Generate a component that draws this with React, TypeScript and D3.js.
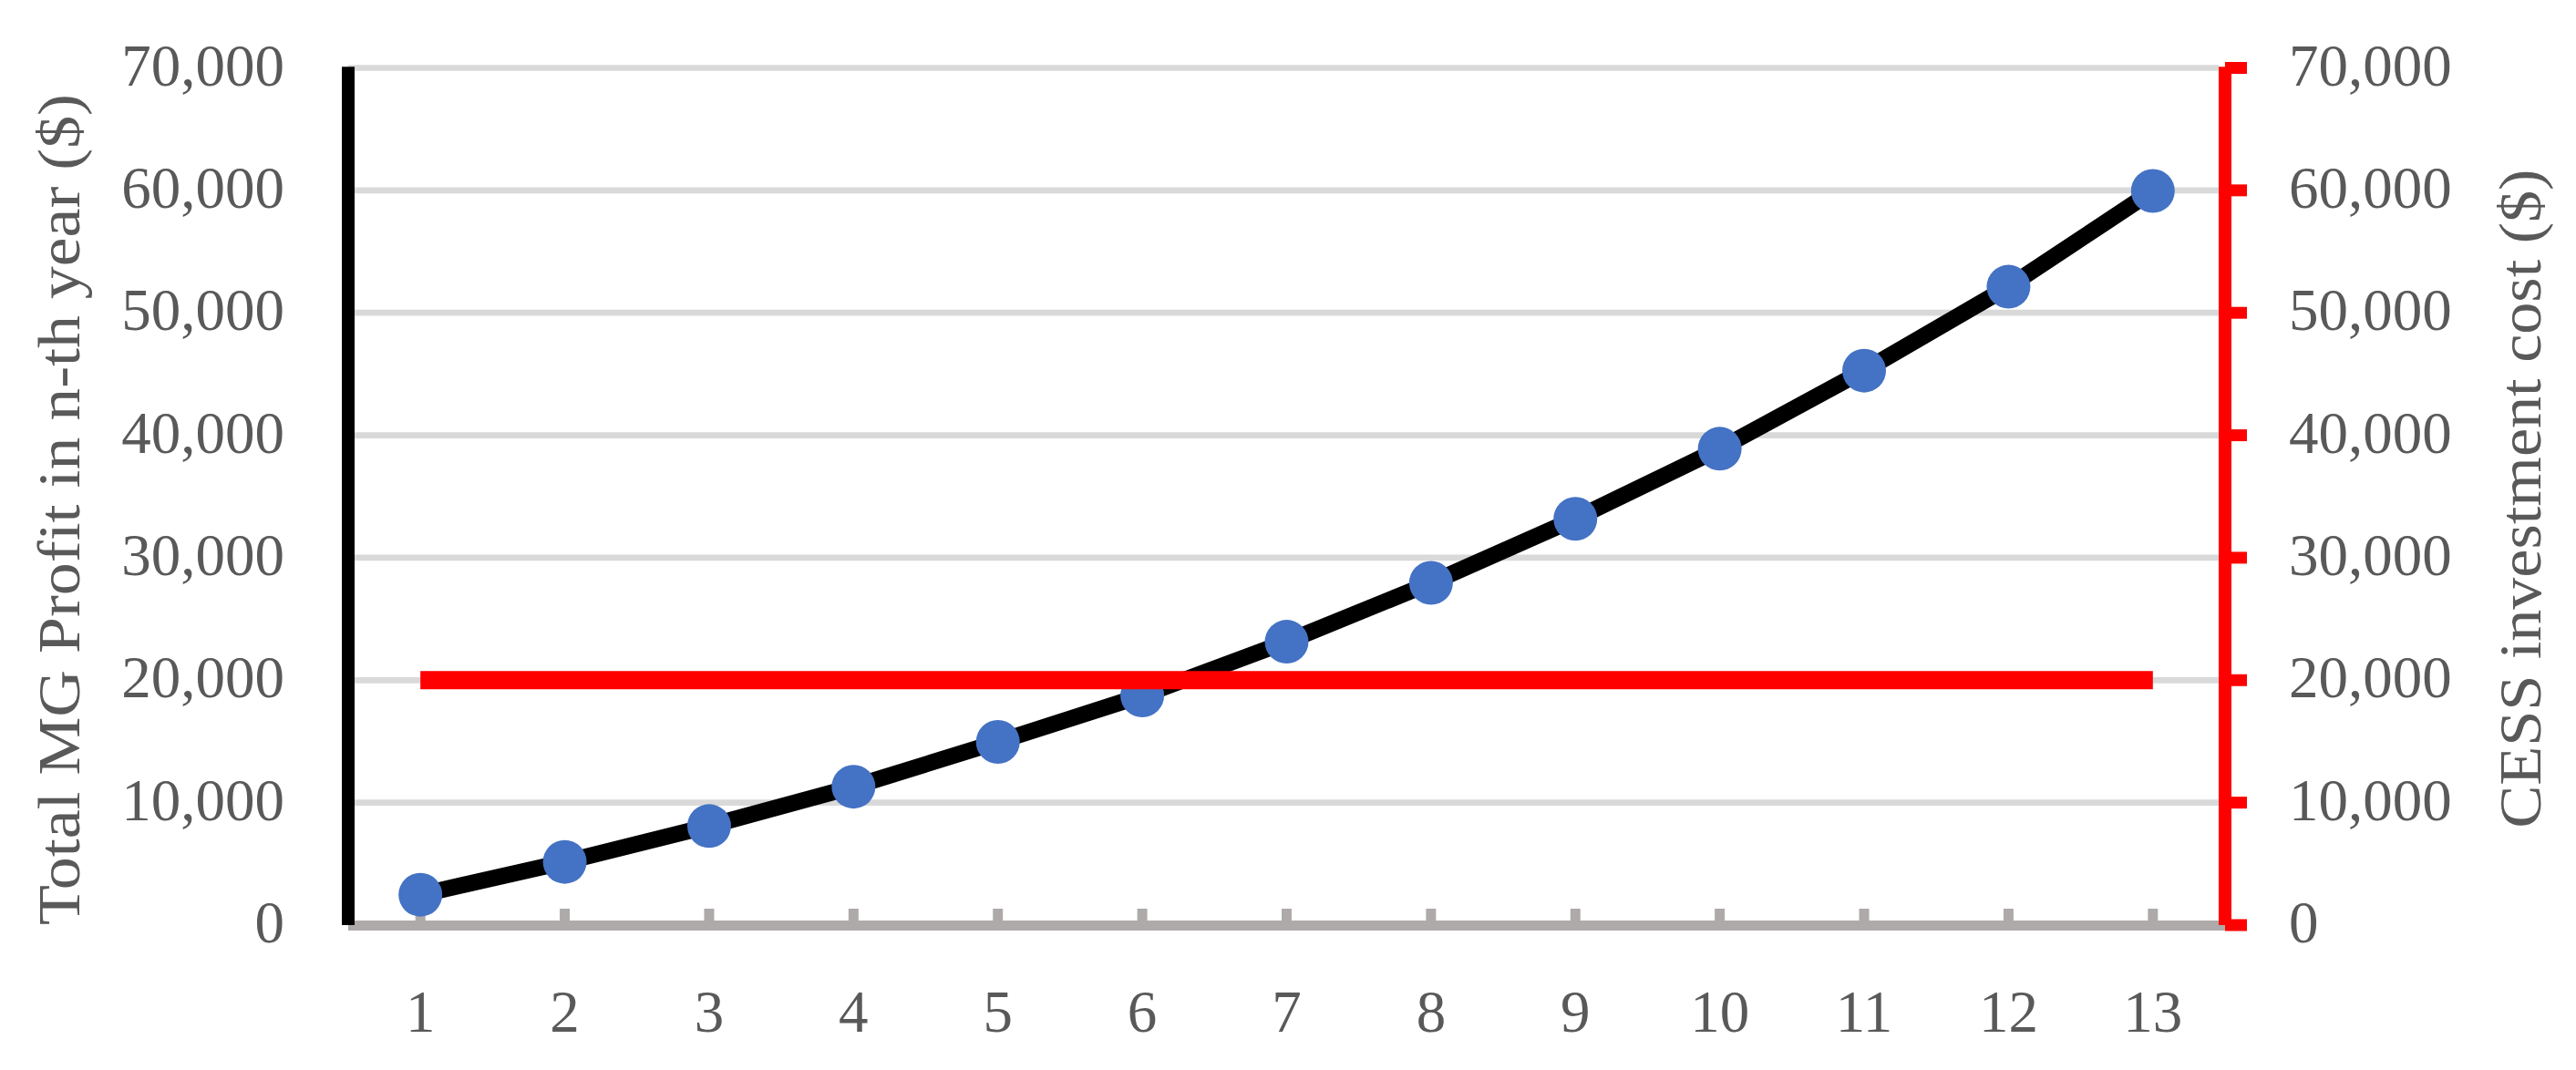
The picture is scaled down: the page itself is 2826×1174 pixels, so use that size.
import React from "react";
import * as d3 from "d3";

const years: string[] = ["1", "2", "3", "4", "5", "6", "7", "8", "9", "10", "11", "12", "13"];
const profit: number[] = [2480, 5160, 8090, 11300, 14960, 18750, 23140, 27950, 33180, 38900, 45280, 52130, 59950];
const investment: number[] = [20000, 20000, 20000, 20000, 20000, 20000, 20000, 20000, 20000, 20000, 20000, 20000, 20000];
const yTicks: number[] = [0, 10000, 20000, 30000, 40000, 50000, 60000, 70000];
const leftTitle = "Total MG Profit in n-th year ($)";
const rightTitle = "CESS investment cost ($)";

const W = 2826;
const H = 1174;
const X0 = 382;
const X1 = 2441;
const Y0 = 1015;
const Y1 = 74.5;
const FONT = "'Liberation Serif', 'Times New Roman', serif";
const TEXT = "#595959";

export default function App() {
  const x = d3.scalePoint<string>().domain(years).range([X0, X1]).padding(0.5);
  const y = d3.scaleLinear().domain([0, 70000]).range([Y0, Y1]);
  const yR = d3.scaleLinear().domain([0, 70000]).range([Y0, Y1]);
  const fmt = d3.format(",");

  const profitLine = d3
    .line<number>()
    .x((_, i) => x(years[i]) as number)
    .y((d) => y(d));
  const invLine = d3
    .line<number>()
    .x((_, i) => x(years[i]) as number)
    .y((d) => yR(d));

  return (
    <svg
      width={W}
      height={H}
      viewBox={`0 0 ${W} ${H}`}
      style={{ position: "absolute", left: 0, top: 0, background: "#fff" }}
    >
      <rect x={0} y={0} width={W} height={H} fill="#fff" />
      {/* gridlines */}
      {yTicks
        .filter((t) => t > 0)
        .map((t) => (
          <line key={"g" + t} x1={X0} x2={2434} y1={y(t)} y2={y(t)} stroke="#D9D9D9" strokeWidth={6.7} />
        ))}
      {/* x axis */}
      <line x1={X0} x2={X1} y1={Y0 + 0.5} y2={Y0 + 0.5} stroke="#AEAAAA" strokeWidth={11} />
      {years.map((c) => (
        <line key={"xt" + c} x1={x(c)} x2={x(c)} y1={Y0} y2={997} stroke="#AEAAAA" strokeWidth={11} />
      ))}
      <line x1={X1} x2={X1} y1={Y0} y2={997} stroke="#AEAAAA" strokeWidth={11} />
      {/* left axis */}
      <line x1={X0} x2={X0} y1={73.3} y2={Y0} stroke="#000" strokeWidth={14} />
      {/* right axis */}
      <line x1={X1} x2={X1} y1={73.3} y2={Y0} stroke="#FF0000" strokeWidth={14} />
      {yTicks.map((t) => (
        <line key={"rt" + t} x1={X1} x2={2465} y1={yR(t)} y2={yR(t)} stroke="#FF0000" strokeWidth={13} />
      ))}
      {/* profit line */}
      <path d={profitLine(profit) || ""} fill="none" stroke="#000" strokeWidth={18} strokeLinejoin="round" />
      {profit.map((v, i) => (
        <circle key={"p" + i} cx={x(years[i])} cy={y(v)} r={24} fill="#4472C4" />
      ))}
      {/* investment line */}
      <path d={invLine(investment) || ""} fill="none" stroke="#FF0000" strokeWidth={20} />
      {/* left tick labels */}
      {yTicks.map((t) => (
        <text
          key={"lt" + t}
          x={312}
          y={y(t) + 19}
          textAnchor="end"
          fontFamily={FONT}
          fontSize={65}
          fill={TEXT}
        >
          {fmt(t)}
        </text>
      ))}
      {/* right tick labels */}
      {yTicks.map((t) => (
        <text
          key={"rl" + t}
          x={2511}
          y={yR(t) + 19}
          textAnchor="start"
          fontFamily={FONT}
          fontSize={65}
          fill={TEXT}
        >
          {fmt(t)}
        </text>
      ))}
      {/* x labels */}
      {years.map((c) => (
        <text
          key={"xl" + c}
          x={x(c)}
          y={1132}
          textAnchor="middle"
          fontFamily={FONT}
          fontSize={65}
          fill={TEXT}
        >
          {c}
        </text>
      ))}
      {/* axis titles */}
      <text
        transform={`translate(87, 559) rotate(-90)`}
        textAnchor="middle"
        fontFamily={FONT}
        fontSize={66}
        fill={TEXT}
        textLength={912}
        lengthAdjust="spacingAndGlyphs"
      >
        {leftTitle}
      </text>
      <text
        transform={`translate(2787, 547) rotate(-90)`}
        textAnchor="middle"
        fontFamily={FONT}
        fontSize={66}
        fill={TEXT}
        textLength={723}
        lengthAdjust="spacingAndGlyphs"
      >
        {rightTitle}
      </text>
    </svg>
  );
}
